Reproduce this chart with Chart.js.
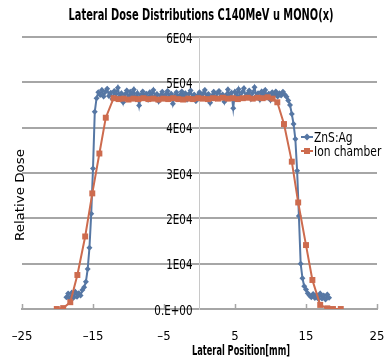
<!DOCTYPE html>
<html><head><meta charset="utf-8">
<script src="https://cdn.jsdelivr.net/npm/chart.js@4/dist/chart.umd.min.js"></script>
<style>html,body{margin:0;padding:0;background:#fff}#wrap{width:390px;height:358px}</style>
</head><body><div id="wrap"><canvas id="c" width="390" height="358"></canvas></div>
<script>
const chartTitle = 'Lateral Dose Distributions C140MeV u MONO(x)';
const xTitle = 'Lateral Position[mm]';
const yTitle = 'Relative Dose';
const seriesNames = ['ZnS:Ag', 'Ion chamber'];
const xTickValues = [-25, -15, -5, 5, 15, 25];
const xTickLabels = ['\u201325', '\u201315', '\u20135', '5', '15', '25'];
const yTickValues = [0, 10000, 20000, 30000, 40000, 50000, 60000];
const yTickLabels = ['0.E+00', '1E04', '2E04', '3E04', '4E04', '5E04', '6E04'];

const blueX = [-18.75,-18.5,-18.25,-18,-17.75,-17.5,-17.25,-17,-16.75,-16.5,-16.25,-16,-15.75,-15.5,-15.25,-15,-14.75,-14.5,-14.25,
 -14,-13.75,-13.5,-13.25,-13,-12.75,-12.5,-12.25,-12,-11.75,-11.5,-11.25,-11,-10.75,-10.5,-10.25,-10,-9.75,-9.5,-9.25,-9,-8.75,-8.5,-8.25,-8,-7.75,-7.5,-7.25,-7,-6.75,-6.5,-6.25,-6,-5.75,-5.5,-5.25,-5,-4.75,-4.5,-4.25,-4,-3.75,-3.5,-3.25,-3,-2.75,-2.5,-2.25,-2,-1.75,-1.5,-1.25,-1,-0.75,-0.5,-0.25,
 0,0.25,0.5,0.75,1,1.25,1.5,1.75,2,2.25,2.5,2.75,3,3.25,3.5,3.75,4,4.25,4.5,4.75,5,5.25,5.5,5.75,6,6.25,6.5,6.75,7,7.25,7.5,7.75,8,8.25,8.5,8.75,9,9.25,9.5,9.75,10,10.25,10.5,10.75,11,11.25,11.5,11.75,12,
 12.25,12.5,12.75,13,13.25,13.5,13.75,14,14.25,14.5,14.75,15,15.25,15.5,15.75,16,16.25,16.5,16.75,17,17.25,17.5,17.75,18,18.25];
const blueY = [2600,3400,2200,3600,2500,3800,2700,3500,3000,4200,4800,6000,8800,13500,21000,31000,43500,46500,47800,
 47200,48300,46900,47900,48600,47000,47700,46300,48100,47400,48800,46800,47600,45600,47300,48200,46700,47900,47100,48400,46400,47600,44900,47200,48000,46900,47500,46200,47800,47000,48300,46600,47400,45800,47100,47900,46500,47300,48100,46800,47500,45300,47000,47800,46400,47200,48000,46900,47600,46200,47400,48200,46700,47300,45900,47100,
 47800,46600,47500,48300,46800,47400,45500,47000,47900,46500,47600,48100,46900,47300,45700,47200,48400,46800,47700,44300,47900,47100,48500,46600,47800,48700,46900,47500,48200,46400,47700,48900,47000,47600,46200,48000,47300,48300,46700,47500,46100,47800,47200,48000,46900,47600,47100,47900,47300,
 46800,46000,45000,43000,40800,37500,30500,20500,10000,6800,5000,4300,3500,3000,2600,3300,2400,3100,2200,3400,2300,3000,2100,3200,2500];

const orangeX = [-20.1,-19.2,-18.2,-17.2,-16.1,-15.1,-14.1,-13.2,-12.1,
 -11.4,-10.7,-10,-9.3,-8.6,-7.9,-7.2,-6.5,-5.8,-5.1,-4.4,-3.7,-3,-2.3,-1.6,-0.9,-0.2,0.5,1.2,1.9,2.6,3.3,4,4.7,5.4,6.1,6.8,7.5,8.2,8.9,9.6,10.3,
 10.96,11.9,13,13.9,15,15.9,17,18,18.8,19.9];
const orangeY = [0,200,1500,7500,16000,25500,34300,42200,46500,
 46300,46400,46200,46400,46300,46500,46300,46400,46200,46400,46300,46500,46300,46200,46400,46300,46500,46400,46300,46500,46400,46600,46400,46500,46300,46500,46600,46400,46600,46500,46700,46400,
 45600,40800,32500,23500,14100,6400,900,150,0,0];

const BLUE = '#5677a4', ORANGE = '#cd6b4e', GRID = '#a6a6a6';
const FONT = "'DejaVu Sans Condensed','Liberation Sans Narrow',sans-serif";

function narrowText(ctx, text, x, y, font, align, sx, rot) {
  ctx.save();
  ctx.translate(x, y);
  if (rot) ctx.rotate(rot);
  ctx.scale(sx, 1);
  ctx.font = font; ctx.textAlign = align; ctx.textBaseline = 'middle';
  ctx.fillText(text, 0, 0);
  ctx.restore();
}
function fitText(ctx, text, x, y, font, align, width, rot) {
  ctx.save(); ctx.font = font;
  const w = ctx.measureText(text).width; ctx.restore();
  narrowText(ctx, text, x, y, font, align, width / w, rot);
}

const extras = {
  id: 'extras',
  afterDraw(chart) {
    const ctx = chart.ctx, xs = chart.scales.x, ys = chart.scales.y;
    ctx.save();
    ctx.strokeStyle = GRID; ctx.lineWidth = 1.5;
    xTickValues.forEach(v => {
      const px = Math.round(xs.getPixelForValue(v)) + 0.5;
      ctx.beginPath(); ctx.moveTo(px, ys.bottom); ctx.lineTo(px, ys.bottom - 5); ctx.stroke();
    });
    ctx.fillStyle = '#000';
    const axisX = xs.getPixelForValue(0);
    yTickValues.forEach((v, i) => {
      narrowText(ctx, yTickLabels[i], axisX - 7, ys.getPixelForValue(v) + 2, "14px " + FONT, 'right', 0.82);
    });
    fitText(ctx, chartTitle, 201, 16, "bold 15px " + FONT, 'center', 265);
    fitText(ctx, xTitle, 241, 351, "bold 14px " + FONT, 'center', 98);
    fitText(ctx, yTitle, 21, 195, "13px " + FONT, 'center', 92, -Math.PI / 2);
    const rows = [{c: BLUE, y: 137, shape: 'diamond'}, {c: ORANGE, y: 151, shape: 'square'}];
    rows.forEach((r, i) => {
      ctx.strokeStyle = r.c; ctx.lineWidth = 2;
      ctx.beginPath(); ctx.moveTo(301, r.y); ctx.lineTo(313, r.y); ctx.stroke();
      ctx.fillStyle = r.c; ctx.beginPath();
      if (r.shape === 'diamond') { ctx.moveTo(307, r.y - 3.5); ctx.lineTo(310.5, r.y); ctx.lineTo(307, r.y + 3.5); ctx.lineTo(303.5, r.y); ctx.closePath(); }
      else { ctx.rect(304, r.y - 3, 6, 6); }
      ctx.fill();
      ctx.fillStyle = '#000';
      narrowText(ctx, seriesNames[i], 314, r.y + 1, "14px " + FONT, 'left', 0.85);
    });
    ctx.restore();
  }
};

new Chart(document.getElementById('c'), {
  type: 'line',
  data: {
    datasets: [
      { label: seriesNames[1], data: orangeX.map((x, i) => ({x, y: orangeY[i]})), borderColor: ORANGE, backgroundColor: ORANGE,
        borderWidth: 2, pointStyle: 'rect', pointRadius: 4.2, pointBorderWidth: 0, tension: 0, order: 0 },
      { label: seriesNames[0], data: blueX.map((x, i) => ({x, y: blueY[i]})), borderColor: BLUE, backgroundColor: BLUE,
        borderWidth: 2, pointStyle: 'rectRot', pointRadius: 3, pointBorderWidth: 0, tension: 0, order: 1 }
    ]
  },
  options: {
    responsive: false, animation: false, devicePixelRatio: 1,
    layout: { padding: { top: 37, left: 22, right: 13, bottom: 0 } },
    plugins: { legend: { display: false }, title: { display: false }, tooltip: { enabled: false } },
    scales: {
      x: {
        type: 'linear', position: 'bottom', min: -25, max: 25,
        afterBuildTicks: s => { s.ticks = xTickValues.map(v => ({value: v})); },
        afterFit: s => { s.height = 49; s.paddingLeft = 0; s.paddingRight = 0; },
        grid: { display: false, drawTicks: false },
        border: { display: true, color: GRID, width: 2 },
        ticks: { padding: 20, color: '#000', font: { family: FONT, size: 13 }, maxRotation: 0, autoSkip: false,
          callback: (v, i) => xTickLabels[i] }
      },
      y: {
        type: 'linear', position: { x: 0 }, min: 0, max: 60000,
        afterBuildTicks: s => { s.ticks = yTickValues.map(v => ({value: v})); },
        afterFit: s => { s.width = 0; },
        ticks: { display: false },
        grid: { color: GRID, lineWidth: 2, drawTicks: false },
        border: { display: true, color: '#c8c8c8', width: 1 }
      }
    }
  },
  plugins: [extras]
});
</script></body></html>
